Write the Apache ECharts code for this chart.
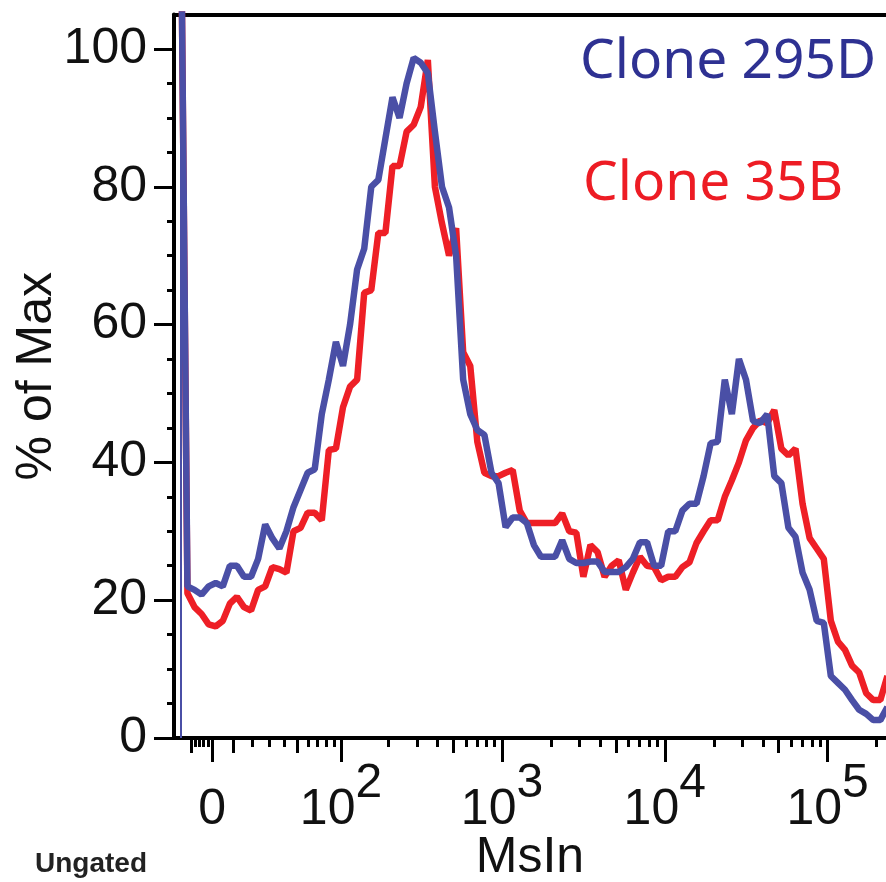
<!DOCTYPE html>
<html>
<head>
<meta charset="utf-8">
<script src="https://cdn.jsdelivr.net/npm/echarts@6/dist/echarts.min.js"></script>
<style>
  html, body { margin: 0; padding: 0; background: #fff; }
  #chart { width: 886px; height: 882px; }
</style>
</head>
<body>
<div id="chart"></div>
<script>
// biexponential (asinh) display scale, width of the linear zone around 0
var W = 33.2;
function toScale(v) { return Math.asinh(v / W); }
function fromScale(u) { return W * Math.sinh(u); }

// histogram bins, in display units
var binStart = -0.45;
var binStep = 0.1;

// % of Max per bin
var clone295D = [130, 22, 21.5, 20.8, 22, 22.5, 22, 25, 25, 23.4,
  23.4, 26, 31, 29, 27.5, 30, 33.5, 36, 38.5, 39,
  47, 52, 57.5, 54, 60, 68, 71, 80, 81, 87,
  93, 90, 95, 98.7, 98, 96.5, 88, 80, 77, 70,
  52, 47, 44.7, 44, 38.5, 37, 30.6, 32, 32, 31.2,
  28, 26.3, 26.3, 26.3, 28.7, 26, 25.4, 25.4, 25.6, 25.6,
  24.1, 24.1, 24.1, 24.8, 26, 28.4, 28.4, 25, 25, 30,
  30, 33, 34, 34, 38, 42.8, 43, 52, 47, 55,
  52, 46, 45.7, 47, 38, 37, 30.5, 29.2, 24, 21.5,
  17, 16.7, 9, 8, 7, 5.5, 4.1, 3.5, 2.6, 2.6, 4.5];

var clone35B = [130, 21, 19, 18, 16.5, 16.2, 17, 19.5, 20.5, 19,
  18.5, 21.5, 22, 24.8, 24.5, 24, 30, 30.5, 32.7, 32.7,
  31.6, 41.8, 42, 48, 51, 52, 64.6, 65, 73.3, 73.3,
  83, 83, 88, 89, 91.6, 98.4, 80, 74.7, 70, 74,
  56, 54, 43, 38.5, 38, 38, 38.5, 38.9, 33, 31.2,
  31.2, 31.2, 31.2, 31.2, 32.6, 30, 29.8, 23.4, 28, 27,
  23.4, 25, 25.8, 21.5, 24, 26.3, 25, 24.8, 22.9, 23.4,
  23.4, 24.8, 25.5, 28.3, 30, 31.6, 31.6, 35, 37.4, 40,
  43.2, 45, 46.1, 45.7, 47.6, 42, 41, 42, 34, 29,
  27.5, 26, 17, 14, 12.8, 10.5, 9.5, 6.5, 5.5, 5.5, 9];

// x ticks, in MsIn intensity
var majorTicks = [0, 1e2, 1e3, 1e4, 1e5];
var midTicks = [-10, 10, 50, 500, 5000, 50000];
var minorTicks = [-8, -6, -4, -2,
  20, 30, 40, 60, 70, 80, 90,
  200, 300, 400, 600, 700, 800, 900,
  2000, 3000, 4000, 6000, 7000, 8000, 9000,
  20000, 30000, 40000, 60000, 70000, 80000, 90000, 200000];

// y ticks
var yMajor = [0, 20, 40, 60, 80, 100];
var yMinor = [5, 10, 15, 25, 30, 35, 45, 50, 55, 65, 70, 75, 85, 90, 95];

var xMin = -0.54, xMax = 9.53;

function pairs(vals) {
  return vals.map(function (y, i) { return [binStart + i * binStep, y]; });
}

var chart = echarts.init(document.getElementById('chart'));

var labelFont = 'Liberation Sans';
var baseX = {
  type: 'value',
  gridIndex: 0,
  min: xMin,
  max: xMax,
  position: 'bottom',
  splitLine: { show: false },
  axisLine: { show: false, onZero: false },
  axisLabel: { show: false },
  axisTick: { show: true, inside: false }
};

option = {
  animation: false,
  backgroundColor: '#fff',
  grid: { left: 174, right: 0, top: 14.5, bottom: 144, containLabel: false, outerBoundsMode: 'none' },
  xAxis: [
    Object.assign({}, baseX, {
      name: 'MsIn',
      nameLocation: 'middle',
      nameGap: 95,
      nameMoveOverlap: false,
      nameTextStyle: { fontFamily: labelFont, fontSize: 50, color: '#111' },
      axisLine: { show: true, onZero: false, lineStyle: { color: '#000', width: 4 } },
      axisTick: { show: true, length: 24, lineStyle: { color: '#000', width: 3 },
        customValues: majorTicks.map(toScale) },
      axisLabel: {
        show: true,
        margin: 47,
        customValues: majorTicks.map(toScale),
        formatter: function (u) {
          var v = fromScale(u);
          if (Math.abs(v) < 1) return '{b|0}';
          return '{b|10}{s|' + Math.round(Math.log10(v)) + '}';
        },
        rich: {
          b: { fontFamily: labelFont, fontSize: 50, color: '#111', verticalAlign: 'bottom', lineHeight: 50 },
          s: { fontFamily: labelFont, fontSize: 48, color: '#111', verticalAlign: 'bottom', lineHeight: 50, padding: [0, 0, 27, 0] }
        }
      }
    }),
    Object.assign({}, baseX, {
      axisTick: { show: true, length: 15, lineStyle: { color: '#000', width: 3 },
        customValues: midTicks.map(toScale) }
    }),
    Object.assign({}, baseX, {
      axisTick: { show: true, length: 9, lineStyle: { color: '#000', width: 3 },
        customValues: minorTicks.map(toScale) }
    }),
    Object.assign({}, baseX, {
      position: 'top',
      axisTick: { show: false },
      axisLine: { show: true, onZero: false, lineStyle: { color: '#000', width: 4 } }
    })
  ],
  yAxis: [
    {
      type: 'value',
      min: 0,
      max: 105,
      position: 'left',
      name: '% of Max',
      nameLocation: 'middle',
      nameGap: 112,
      nameMoveOverlap: false,
      nameRotate: 90,
      nameTextStyle: { fontFamily: labelFont, fontSize: 50, color: '#111' },
      splitLine: { show: false },
      axisLine: { show: true, onZero: false, lineStyle: { color: '#000', width: 4 } },
      axisTick: { show: true, length: 20, lineStyle: { color: '#000', width: 3 }, customValues: yMajor },
      axisLabel: { margin: 27, fontFamily: labelFont, fontSize: 50, color: '#111', customValues: yMajor }
    },
    {
      type: 'value',
      min: 0,
      max: 105,
      position: 'left',
      splitLine: { show: false },
      axisLine: { show: false, onZero: false },
      axisLabel: { show: false },
      axisTick: { show: true, length: 7, lineStyle: { color: '#000', width: 3 }, customValues: yMinor }
    }
  ],
  series: [
    {
      name: 'Clone 35B',
      type: 'line',
      data: pairs(clone35B),
      showSymbol: false,
      lineStyle: { color: '#ee1f26', width: 6.5 },
      z: 2
    },
    {
      name: 'Clone 295D',
      type: 'line',
      data: pairs(clone295D),
      showSymbol: false,
      lineStyle: { color: '#4a4fa6', width: 6.5 },
      markLine: {
        silent: true,
        symbol: 'none',
        label: { show: false },
        lineStyle: { color: '#4a4fa6', width: 2, type: 'solid' },
        data: [{ xAxis: binStart }]
      },
      z: 3
    }
  ],
  graphic: [
    { type: 'text', left: 580, top: 35,
      style: { text: 'Clone 295D', fill: '#2e3192', font: '55px "Noto Sans"' } },
    { type: 'text', left: 583, top: 157,
      style: { text: 'Clone 35B', fill: '#ed1c24', font: '55px "Noto Sans"' } },
    { type: 'text', left: 35, top: 850,
      style: { text: 'Ungated', fill: '#222', font: 'bold 28px "Liberation Sans"' } }
  ]
};

chart.setOption(option);
</script>
</body>
</html>
